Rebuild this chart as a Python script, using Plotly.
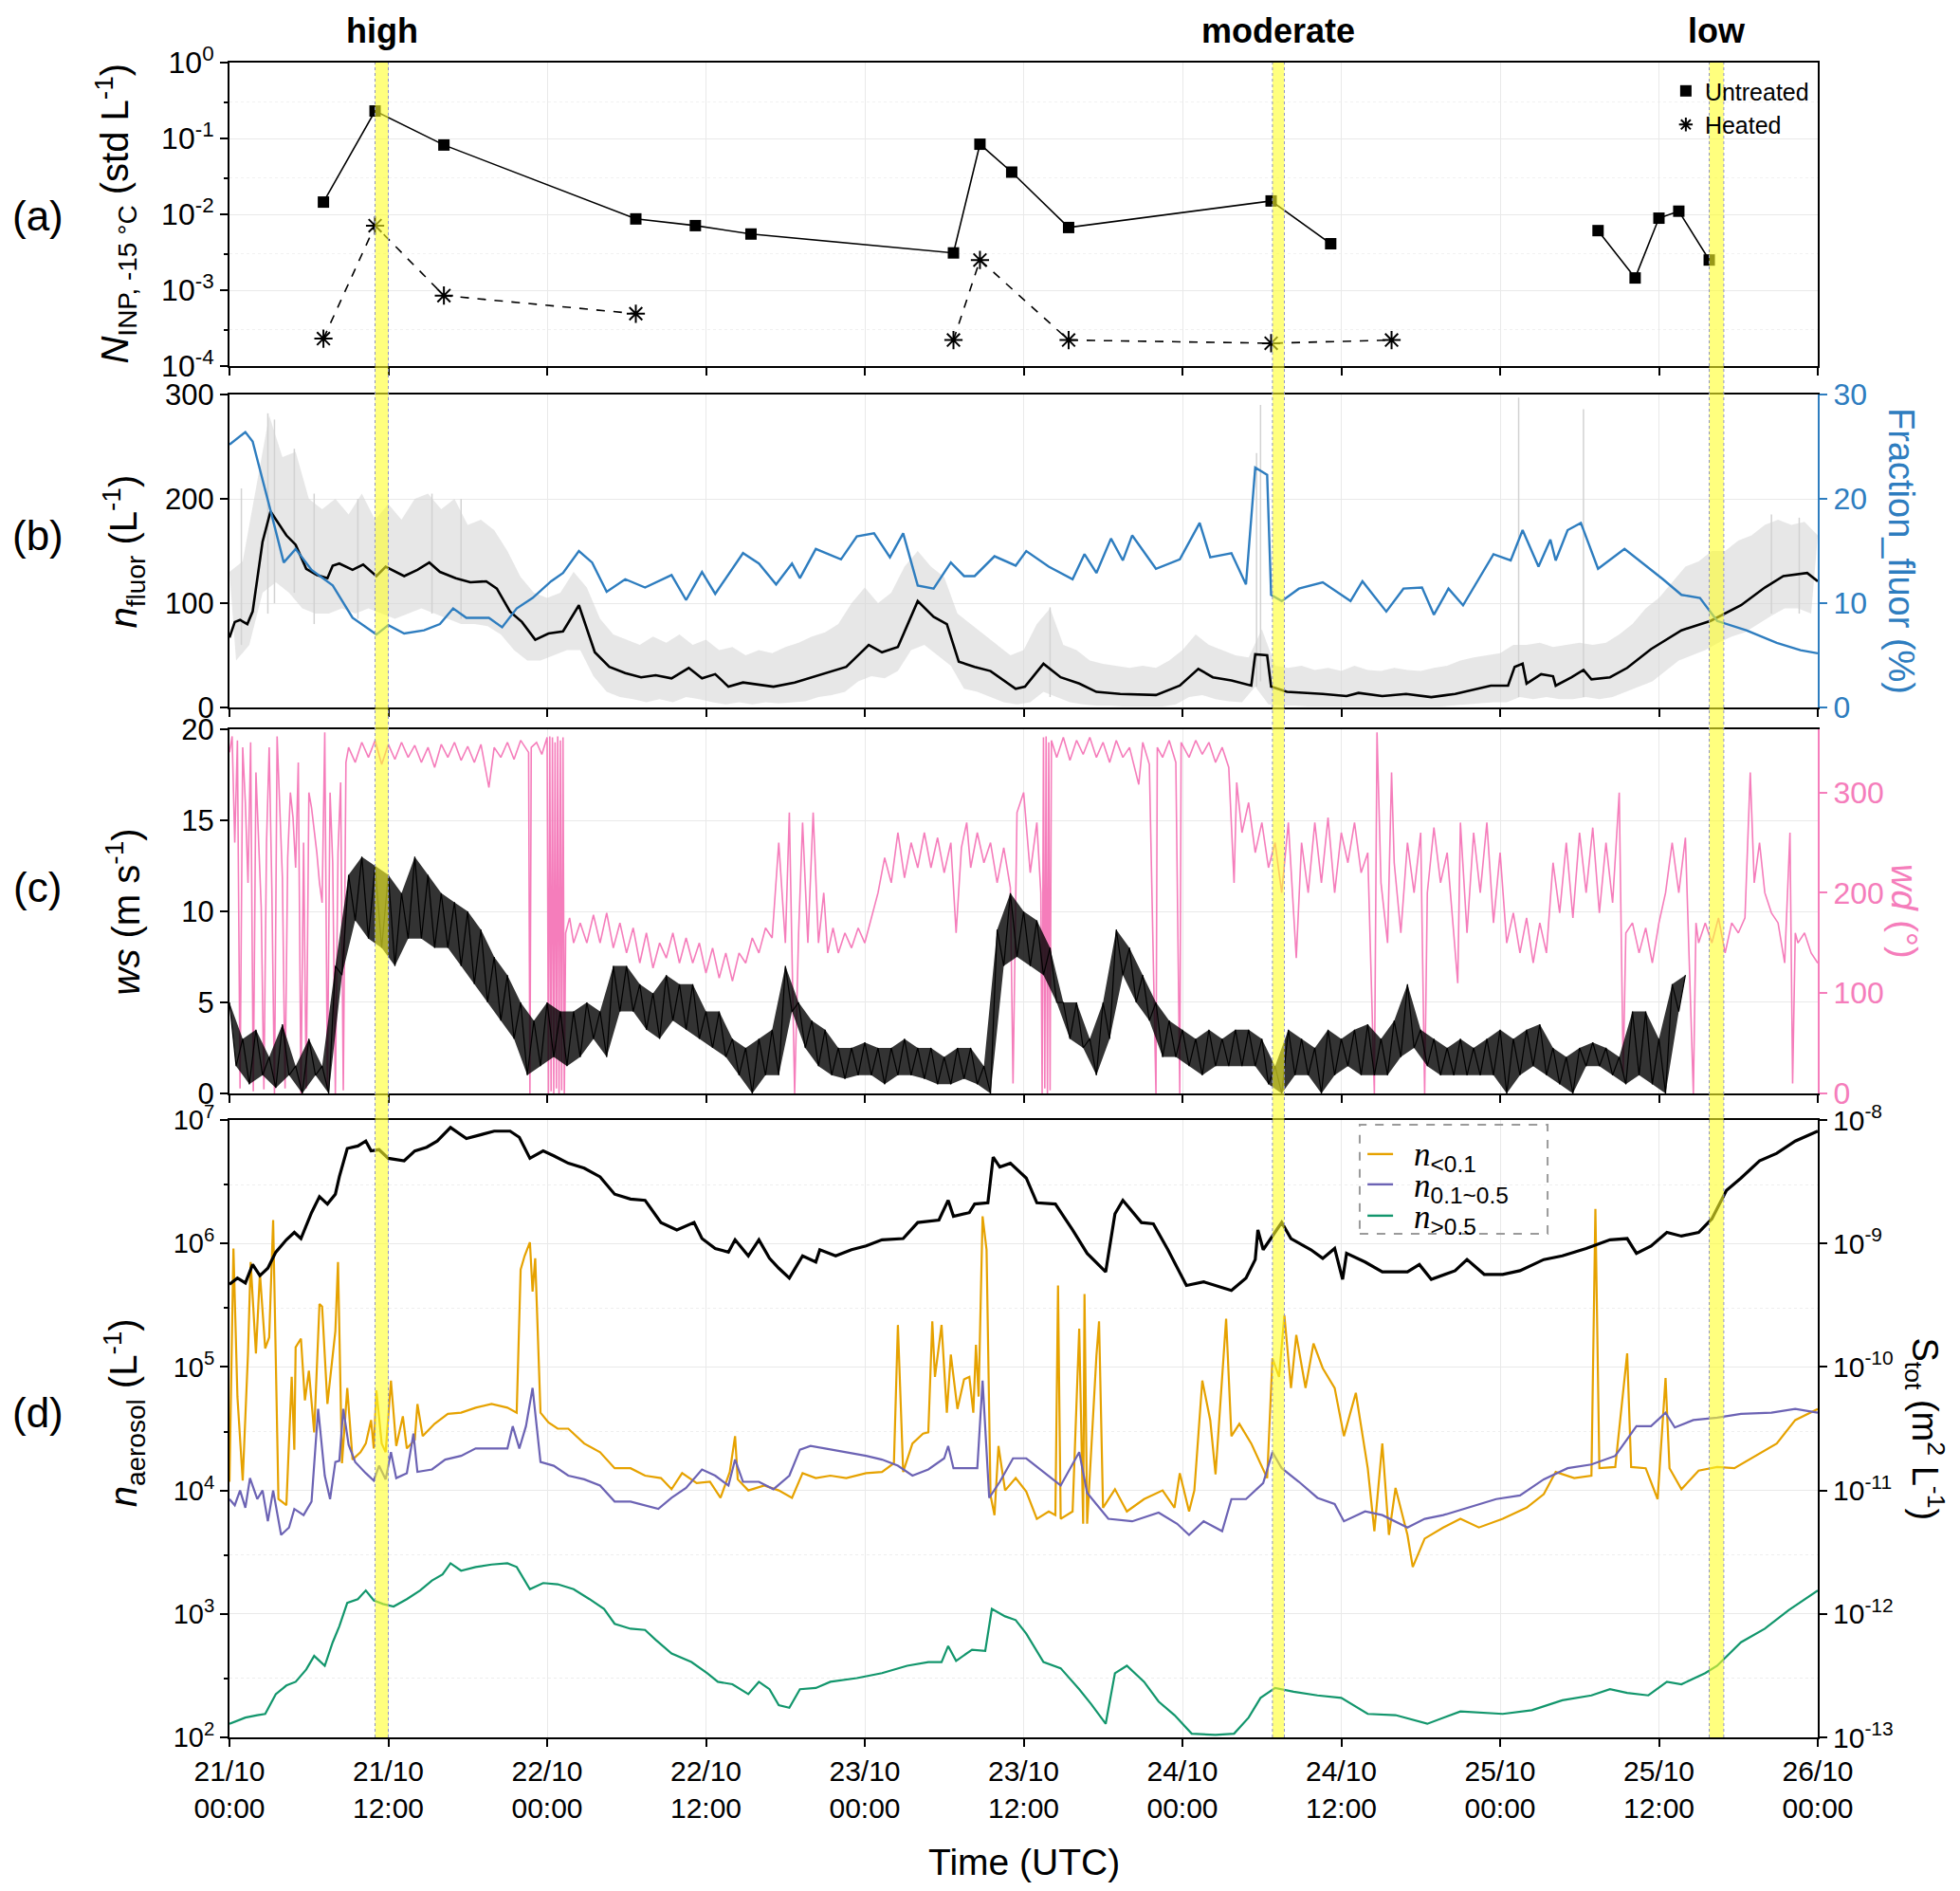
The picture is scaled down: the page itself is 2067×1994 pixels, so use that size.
import plotly.graph_objects as go

# time axis: hours since 21/10 00:00 UTC
tick_h = [0, 12, 24, 36, 48, 60, 72, 84, 96, 108, 120]
tick_txt = ["21/10<br>00:00", "21/10<br>12:00", "22/10<br>00:00", "22/10<br>12:00",
            "23/10<br>00:00", "23/10<br>12:00", "24/10<br>00:00", "24/10<br>12:00",
            "25/10<br>00:00", "25/10<br>12:00", "26/10<br>00:00"]

# highlighted sampling periods (start, end) in hours
bands = [(11.0, 12.0), (78.8, 79.7), (111.8, 112.9)]
band_labels = ["high", "moderate", "low"]

# ---- (a) INP at -15 C
untreated_t = [7.1, 11.0, 16.2, 30.7, 35.2, 39.4, 54.7, 56.7, 59.1, 63.4, 78.7, 83.2, None,
               103.4, 106.2, 108.0, 109.5, 111.8]
untreated_v = [0.0145, 0.23, 0.082, 0.0087, 0.0071, 0.0055, 0.0031, 0.084, 0.036, 0.0067, 0.015, 0.0041, None,
               0.0061, 0.00145, 0.0089, 0.011, 0.0025]
heated_t = [7.1, 11.0, 16.2, 30.7, None, 54.7, 56.7, 63.4, 78.7, 87.8]
heated_v = [0.00023, 0.0071, 0.00085, 0.00049, None, 0.00022, 0.0025, 0.00022, 0.0002, 0.00022]

# ---- (b) fluorescent particles
nfluor_pts = [(0, 67), (0.4, 82), (0.8, 84), (1.35, 80), (1.75, 92), (2.1, 123), (2.5, 159), (3.1, 188),
              (3.7, 177), (4.3, 165), (5.0, 156), (5.8, 133), (6.6, 127), (7.4, 124), (7.8, 136), (8.3, 138),
              (9.3, 132), (10.1, 137), (11.1, 126), (11.8, 135), (13.2, 126), (14.2, 132), (15.1, 139),
              (15.9, 130), (17.1, 124), (18.2, 120), (19.4, 121), (20.2, 114), (21.2, 92), (22.1, 82),
              (23.1, 65), (24.1, 71), (25.2, 73), (26.4, 98), (27.6, 53), (28.7, 39), (29.9, 33), (31.1, 29),
              (32.2, 31), (33.4, 28), (34.7, 38), (35.7, 28), (36.7, 32), (37.7, 20), (38.8, 24), (41.1, 20),
              (42.7, 24), (44.3, 30), (46.6, 39), (48.3, 60), (49.3, 53), (50.5, 58), (52.0, 102), (53.2, 87),
              (54.2, 80), (55.1, 44), (56.3, 39), (57.5, 35), (59.4, 18), (60.1, 20), (61.5, 42), (62.8, 29),
              (64.2, 23), (65.5, 15), (67.3, 13), (70.0, 12), (71.8, 21), (73.2, 37), (74.3, 29), (75.7, 26),
              (77.2, 21), (77.5, 51), (78.4, 50), (78.7, 20), (79.9, 15), (82.6, 13), (84.4, 11), (85.3, 14),
              (87.1, 11), (88.9, 13), (90.8, 10), (92.6, 13), (95.3, 21), (96.6, 21), (97.1, 39), (97.7, 42),
              (98.0, 23), (99.1, 32), (100.0, 30), (100.2, 21), (101.4, 29), (102.3, 36), (102.9, 27),
              (104.3, 29), (105.6, 38), (107.4, 56), (109.7, 74), (111.9, 83), (114.2, 98), (116.0, 115),
              (117.4, 126), (119.2, 129), (120.0, 121)]
frac_pts = [(0, 25.2), (1.2, 26.4), (1.75, 25.5), (2.3, 22.9), (3.1, 18.9), (4.1, 13.9), (5.0, 15.2),
            (6.2, 13.2), (7.8, 11.7), (9.3, 8.6), (11.1, 7.0), (12.0, 7.9), (13.2, 7.1), (14.7, 7.4),
            (15.9, 8.0), (16.9, 9.5), (17.9, 8.6), (19.6, 8.6), (20.6, 7.7), (21.7, 9.5), (22.9, 10.5),
            (24.3, 12.1), (25.2, 12.9), (26.4, 15.0), (27.4, 13.9), (28.5, 11.1), (29.9, 12.3), (31.4, 11.5),
            (33.4, 12.7), (34.5, 10.3), (35.7, 13.0), (36.7, 10.9), (38.8, 14.8), (40.0, 13.8), (41.3, 11.8),
            (42.5, 13.8), (43.1, 12.4), (44.3, 15.2), (46.2, 14.2), (47.4, 16.4), (48.7, 16.7), (49.9, 14.4),
            (50.9, 16.7), (52.0, 11.7), (53.2, 11.4), (54.5, 13.9), (55.5, 12.6), (56.3, 12.6), (57.8, 14.5),
            (59.4, 13.6), (60.2, 15.0), (61.9, 13.5), (63.7, 12.3), (64.6, 14.7), (65.5, 12.9), (66.6, 16.2),
            (67.5, 14.1), (68.2, 16.5), (70.0, 13.3), (71.8, 14.2), (73.3, 17.7), (74.1, 14.4), (75.7, 14.8),
            (76.8, 11.8), (77.5, 23.0), (78.4, 22.3), (78.7, 10.8), (79.5, 10.2), (80.8, 11.4), (82.6, 12.0),
            (84.7, 10.2), (85.6, 12.1), (87.4, 9.2), (88.7, 11.4), (90.1, 11.5), (91.0, 8.9), (92.1, 11.4),
            (93.2, 9.8), (94.4, 12.3), (95.5, 14.7), (96.8, 14.1), (97.7, 17.0), (98.9, 13.5), (99.8, 16.1),
            (100.2, 14.1), (101.1, 17.0), (102.1, 17.7), (103.4, 13.3), (105.4, 15.2), (107.0, 13.6),
            (108.3, 12.3), (109.7, 10.8), (111.1, 10.5), (112.4, 8.3), (114.6, 7.4), (116.9, 6.2),
            (118.7, 5.5), (120.0, 5.2)]
# raw n_fluor spread: upper values on the hour, lower values on the half hour
raw_hi = [130, 140, 210, 280, 240, 245, 200, 190, 200, 185, 205, 180, 195, 180, 200, 205, 190, 200, 175, 180,
          170, 150, 125, 110, 105, 110, 130, 115, 85, 70, 65, 60, 68, 62, 70, 60, 65, 55, 58, 50,
          55, 52, 58, 62, 68, 72, 80, 100, 115, 100, 110, 135, 150, 135, 125, 90, 80, 70, 60, 50,
          55, 80, 95, 60, 55, 45, 42, 40, 38, 40, 38, 45, 55, 70, 60, 55, 50, 48, 75, 40,
          38, 40, 36, 38, 35, 40, 36, 35, 38, 36, 35, 38, 40, 45, 48, 50, 52, 60, 60, 62,
          58, 60, 62, 60, 62, 70, 80, 95, 105, 120, 135, 140, 150, 150, 160, 165, 175, 180, 175, 178, 165]
raw_lo = [45, 60, 110, 120, 110, 95, 90, 90, 95, 90, 95, 90, 85, 90, 95, 90, 85, 80, 80, 78,
          70, 55, 45, 45, 50, 55, 55, 30, 15, 10, 8, 5, 8, 5, 10, 8, 5, 3, 5, 3,
          5, 4, 5, 6, 10, 12, 15, 25, 30, 28, 35, 55, 60, 50, 40, 18, 15, 10, 5, 3,
          5, 15, 10, 5, 3, 2, 2, 1, 1, 1, 1, 3, 10, 12, 8, 6, 5, 20, 3, 2,
          2, 1, 1, 1, 1, 1, 1, 1, 1, 1, 1, 1, 2, 3, 4, 5, 5, 10, 8, 10,
          8, 8, 10, 8, 10, 15, 20, 25, 35, 45, 50, 55, 62, 68, 72, 80, 88, 95, 95, 90]
# single raw readings far above the spread: (hour, low, high)
raw_spikes = [(0.9, 60, 210), (2.9, 90, 282), (3.4, 100, 276), (4.9, 110, 248), (6.4, 80, 205),
              (9.7, 85, 200), (15.3, 90, 205), (17.5, 85, 200), (62.0, 10, 96), (77.6, 20, 244),
              (77.9, 25, 290), (97.4, 10, 297), (102.3, 10, 286), (116.5, 90, 185), (118.6, 90, 182)]

# ---- (c) wind speed (upper on the hour, lower on the half hour) and direction
ws_hi = [5.0, 3.0, 3.5, 2.0, 3.8, 1.5, 3.0, 1.5, 7.0, 12.0, 13.0, 12.5, 12.0, 11.0, 13.0, 12.0, 11.0, 10.5,
         10.0, 9.0, 7.5, 6.5, 5.0, 4.0, 5.0, 4.5, 4.5, 5.0, 4.5, 7.0, 7.0, 6.0, 5.5, 6.5, 6.0, 6.0, 4.5,
         4.5, 3.0, 2.5, 3.0, 3.5, 7.0, 5.0, 4.0, 3.5, 2.5, 2.5, 2.8, 2.5, 2.5, 3.0, 2.5, 2.5, 2.0, 2.5,
         2.5, 1.5, 9.0, 11.0, 10.0, 9.5, 8.0, 5.0, 5.0, 3.0, 5.0, 9.0, 8.0, 6.5, 5.0, 4.0, 3.5, 3.0,
         3.5, 3.0, 3.5, 3.5, 3.0, 1.5, 3.5, 3.0, 2.5, 3.5, 3.0, 3.5, 3.8, 3.0, 4.0, 6.0, 3.5, 3.0, 2.5,
         3.0, 2.5, 3.0, 3.5, 3.0, 3.5, 3.8, 2.5, 2.0, 2.5, 2.8, 2.5, 2.0, 4.5, 4.5, 3.0, 6.0, 6.5]
ws_lo = [1.5, 0.5, 1.0, 0.3, 1.0, 0.0, 1.0, 0.0, 6.5, 9.5, 8.5, 8.0, 7.0, 8.5, 8.5, 8.0, 8.0, 7.0, 6.0,
         5.0, 4.0, 3.0, 1.0, 1.5, 2.0, 1.5, 2.0, 3.0, 2.0, 4.5, 4.5, 3.5, 3.0, 4.0, 3.5, 3.0, 2.5, 2.0,
         1.0, 0.0, 1.0, 1.0, 4.5, 2.5, 1.5, 1.0, 0.8, 1.0, 1.0, 0.5, 1.0, 1.0, 0.8, 0.5, 0.5, 0.8, 0.5,
         0.0, 7.0, 7.5, 7.0, 6.5, 5.0, 3.0, 2.5, 1.0, 3.0, 6.5, 5.0, 4.0, 2.0, 2.0, 1.5, 1.0, 1.5, 1.5,
         1.5, 1.5, 0.5, 0.0, 1.0, 1.0, 0.0, 1.0, 1.5, 1.0, 1.0, 1.0, 2.0, 2.5, 1.5, 1.0, 1.0, 1.0, 1.0,
         1.0, 0.0, 1.0, 1.5, 1.0, 0.5, 0.0, 1.5, 1.5, 1.0, 0.5, 1.0, 0.5, 0.0, 4.5]
wd_pts = [(0.0, 340), (0.2, 356), (0.4, 250), (0.6, 352), (0.8, 5), (1.0, 345), (1.2, 290), (1.4, 210),
          (1.6, 350), (1.8, 2), (2.0, 320), (2.2, 260), (2.4, 185), (2.6, 4), (2.8, 250), (3.0, 345),
          (3.2, 205), (3.4, 0), (3.6, 356), (3.8, 285), (4.0, 215), (4.2, 5), (4.4, 235), (4.6, 300),
          (4.8, 275), (5.0, 225), (5.2, 330), (5.4, 0), (5.6, 250), (5.8, 5), (6.0, 300), (6.2, 285),
          (6.4, 265), (6.6, 240), (6.8, 210), (7.0, 190), (7.2, 360), (7.4, 5), (7.6, 300), (7.8, 230),
          (8.0, 0), (8.2, 240), (8.4, 310), (8.6, 3), (8.8, 330), (9.0, 345), (9.5, 330), (10, 350),
          (10.5, 335), (11, 352), (11.5, 328), (12, 348), (12.5, 333), (13, 350), (13.5, 335), (14, 347),
          (14.5, 330), (15, 345), (15.5, 325), (16, 348), (16.5, 335), (17, 350), (17.5, 332), (18, 346),
          (18.5, 330), (19, 348), (19.6, 305), (20, 345), (20.5, 335), (21, 350), (21.5, 333), (22, 352),
          (22.6, 340), (22.7, 0), (22.8, 345), (23.2, 350), (23.6, 338), (24.0, 355), (24.1, 0),
          (24.2, 356), (24.3, 2), (24.4, 355), (24.5, 0), (24.6, 350), (24.7, 5), (24.8, 356), (24.9, 0),
          (25.0, 352), (25.1, 3), (25.2, 355), (25.3, 0), (25.4, 160), (25.7, 175), (26, 150), (26.5, 170),
          (27, 150), (27.5, 178), (28, 150), (28.5, 180), (29, 145), (29.5, 170), (30, 140), (30.5, 165),
          (31, 130), (31.5, 160), (32, 125), (32.5, 150), (33, 135), (33.5, 160), (34, 130), (34.5, 155),
          (35, 130), (35.5, 150), (36, 120), (36.5, 145), (37, 115), (37.5, 140), (38, 112), (38.5, 140),
          (39, 130), (39.5, 155), (40, 140), (40.5, 165), (41, 155), (41.5, 250), (42, 150), (42.3, 280),
          (42.7, 0), (43, 160), (43.3, 270), (43.7, 150), (44.1, 280), (44.5, 150), (44.9, 200),
          (45.2, 140), (45.6, 165), (46, 140), (46.5, 160), (47, 145), (47.5, 165), (48, 150), (48.5, 175),
          (49, 200), (49.5, 235), (50, 210), (50.5, 260), (51, 215), (51.5, 250), (52, 225), (52.5, 260),
          (53, 225), (53.5, 255), (54, 220), (54.5, 250), (54.9, 160), (55.3, 245), (55.7, 270), (56, 225),
          (56.5, 260), (57, 230), (57.5, 250), (58, 210), (58.5, 245), (59, 205), (59.2, 10), (59.5, 280),
          (60, 300), (60.5, 220), (61, 270), (61.3, 200), (61.4, 0), (61.5, 355), (61.6, 5), (61.7, 356),
          (61.8, 0), (61.9, 350), (62.0, 3), (62.1, 352), (62.5, 335), (63, 355), (63.5, 332), (64, 352),
          (64.5, 338), (65, 355), (65.5, 335), (66, 350), (66.5, 330), (67, 352), (67.5, 335), (68, 345),
          (68.7, 308), (69, 350), (69.5, 328), (70, 0), (70.1, 345), (70.5, 335), (71, 352), (71.5, 330),
          (71.8, 0), (71.9, 350), (72.5, 335), (73, 352), (73.5, 338), (74, 350), (74.5, 330), (75, 345),
          (75.5, 325), (75.9, 210), (76.1, 310), (76.5, 260), (77, 290), (77.5, 240), (78, 270),
          (78.5, 225), (79, 250), (79.5, 200), (80, 270), (80.6, 135), (81, 250), (81.5, 200), (82, 270),
          (82.5, 210), (83, 275), (83.5, 200), (84, 260), (84.5, 230), (85, 270), (85.5, 220), (86, 240),
          (86.5, 0), (86.7, 360), (87, 210), (87.5, 150), (87.8, 320), (88, 230), (88.5, 160), (89, 250),
          (89.5, 200), (90, 260), (90.3, 0), (90.5, 200), (91, 265), (91.5, 210), (92, 240), (92.8, 110),
          (93, 270), (93.5, 160), (94, 260), (94.5, 200), (95, 270), (95.5, 170), (96, 240), (96.5, 150),
          (97, 180), (97.5, 140), (98, 175), (98.5, 130), (99, 170), (99.5, 140), (100, 230), (100.5, 180),
          (101, 250), (101.5, 175), (102, 260), (102.5, 200), (103, 265), (103.5, 180), (104, 250),
          (104.5, 190), (105, 300), (105.3, 20), (105.5, 160), (106, 170), (106.5, 140), (107, 165),
          (107.5, 130), (108, 170), (108.5, 200), (109, 250), (109.5, 200), (110, 255), (110.6, 0),
          (110.8, 170), (111, 150), (111.5, 170), (112, 150), (112.5, 175), (113, 140), (113.5, 170),
          (114, 160), (114.5, 175), (114.9, 320), (115.2, 210), (115.6, 250), (116, 200), (116.5, 180),
          (117, 170), (117.5, 130), (117.9, 260), (118.1, 10), (118.3, 160), (118.5, 150), (119, 160),
          (119.5, 140), (120, 130)]

# ---- (d) aerosol number (log10 L-1) and total surface (log10 m2 L-1)
stot_log = [(0, -9.33), (0.6, -9.28), (1.2, -9.32), (1.75, -9.17), (2.3, -9.26), (2.9, -9.2), (3.5, -9.07),
            (4.3, -8.97), (4.9, -8.91), (5.4, -8.96), (6.2, -8.75), (6.8, -8.62), (7.4, -8.68), (8.0, -8.6),
            (8.3, -8.46), (8.9, -8.23), (9.7, -8.21), (10.3, -8.17), (10.7, -8.25), (11.3, -8.24),
            (12.0, -8.31), (13.2, -8.33), (14.0, -8.25), (14.9, -8.22), (15.7, -8.17), (16.7, -8.06),
            (17.9, -8.15), (19.0, -8.12), (20.0, -8.09), (21.2, -8.09), (21.9, -8.14), (22.7, -8.31),
            (23.7, -8.25), (24.5, -8.29), (25.6, -8.35), (26.8, -8.39), (28.0, -8.46), (29.1, -8.6),
            (30.3, -8.64), (31.4, -8.65), (32.6, -8.83), (33.8, -8.89), (35.1, -8.83), (35.7, -8.96),
            (36.7, -9.04), (37.7, -9.07), (38.2, -8.97), (39.2, -9.1), (40.0, -8.97), (40.8, -9.12),
            (41.5, -9.2), (42.3, -9.28), (43.3, -9.1), (44.3, -9.15), (44.6, -9.05), (45.8, -9.1),
            (47.0, -9.05), (48.1, -9.02), (49.3, -8.97), (50.9, -8.96), (52.0, -8.83), (53.6, -8.81),
            (54.3, -8.65), (54.7, -8.78), (55.9, -8.75), (56.3, -8.68), (57.3, -8.67), (57.7, -8.3),
            (58.2, -8.38), (59.0, -8.35), (60.2, -8.47), (61.0, -8.67), (62.4, -8.68), (63.7, -8.89),
            (64.8, -9.08), (66.2, -9.23), (66.9, -8.76), (67.5, -8.65), (68.9, -8.83), (69.8, -8.84),
            (70.9, -9.05), (72.3, -9.34), (73.6, -9.31), (75.7, -9.38), (76.8, -9.28), (77.5, -9.13),
            (77.7, -8.89), (78.1, -9.05), (79.5, -8.83), (80.2, -8.96), (81.7, -9.05), (82.6, -9.12),
            (83.5, -9.04), (84.1, -9.29), (84.4, -9.08), (85.8, -9.15), (87.1, -9.23), (89.0, -9.23),
            (89.9, -9.17), (90.8, -9.29), (92.6, -9.22), (93.5, -9.13), (94.8, -9.25), (96.2, -9.25),
            (97.5, -9.22), (99.3, -9.13), (100.7, -9.1), (102.5, -9.04), (104.3, -8.97), (105.6, -8.96),
            (106.3, -9.08), (107.4, -9.02), (108.6, -8.91), (109.7, -8.94), (111.0, -8.91), (112.0, -8.8),
            (113.1, -8.57), (114.2, -8.47), (115.6, -8.33), (116.9, -8.27), (118.3, -8.17), (120.0, -8.09)]
n_small_log = [(0, 4.07), (0.3, 5.96), (0.6, 4.76), (1.0, 4.08), (1.4, 5.11), (1.6, 5.85), (2.0, 5.11),
               (2.3, 5.76), (2.7, 5.15), (3.0, 5.24), (3.3, 6.19), (3.7, 3.93), (4.3, 3.88), (4.7, 4.92),
               (4.9, 4.33), (5.0, 5.16), (5.4, 5.23), (5.7, 4.73), (6.0, 4.97), (6.4, 4.47), (6.8, 5.51),
               (7.0, 5.49), (7.4, 4.7), (8.0, 5.29), (8.2, 5.85), (8.5, 4.22), (8.9, 4.83), (9.3, 4.25),
               (9.9, 4.31), (10.3, 4.38), (10.7, 4.57), (10.9, 4.34), (11.1, 4.81), (11.5, 4.38),
               (11.8, 4.31), (12.2, 4.89), (12.6, 4.36), (13.1, 4.6), (13.4, 4.34), (14.0, 4.41),
               (14.2, 4.7), (14.6, 4.44), (15.5, 4.54), (16.5, 4.62), (17.5, 4.63), (18.6, 4.67),
               (19.8, 4.7), (21.0, 4.67), (21.7, 4.63), (22.0, 5.79), (22.3, 5.9), (22.7, 6.01),
               (22.9, 5.61), (23.1, 5.88), (23.5, 4.63), (24.1, 4.55), (24.8, 4.5), (25.6, 4.5),
               (26.8, 4.38), (28.0, 4.31), (29.1, 4.18), (30.3, 4.18), (31.4, 4.12), (32.6, 4.1),
               (33.4, 4.01), (34.2, 4.14), (35.3, 4.06), (36.3, 4.07), (37.1, 3.94), (37.8, 4.15),
               (38.2, 4.44), (38.4, 4.09), (39.2, 4.0), (40.4, 4.04), (41.5, 4.0), (42.5, 3.94),
               (43.3, 4.14), (44.3, 4.1), (45.4, 4.12), (46.6, 4.1), (48.1, 4.14), (49.3, 4.15),
               (50.2, 4.22), (50.5, 5.34), (50.9, 4.15), (51.6, 4.38), (52.4, 4.46), (52.8, 4.47),
               (53.1, 5.37), (53.3, 4.92), (53.8, 5.34), (54.2, 4.63), (54.5, 5.1), (55.0, 4.66),
               (55.5, 4.9), (55.9, 4.92), (56.2, 4.63), (56.4, 5.18), (56.6, 4.76), (56.9, 6.22),
               (57.2, 5.95), (57.5, 3.96), (57.8, 3.8), (58.1, 4.36), (58.6, 4.0), (59.4, 4.1),
               (60.2, 3.99), (61.0, 3.77), (61.9, 3.83), (62.4, 3.8), (62.6, 5.66), (62.8, 3.77),
               (63.7, 3.83), (64.2, 5.31), (64.5, 3.73), (64.6, 5.59), (64.8, 3.73), (65.5, 5.09),
               (65.7, 5.37), (66.0, 3.86), (66.9, 4.01), (67.8, 3.83), (69.1, 3.93), (70.5, 4.0),
               (71.4, 3.86), (71.8, 4.14), (72.5, 3.83), (72.9, 4.0), (73.5, 4.89), (74.1, 4.57),
               (74.5, 4.13), (75.3, 5.39), (75.7, 4.44), (76.3, 4.54), (77.2, 4.38), (78.4, 4.1),
               (78.8, 5.07), (79.3, 4.92), (79.7, 5.42), (80.2, 4.83), (80.6, 5.26), (81.3, 4.83),
               (81.9, 5.19), (82.6, 4.99), (83.5, 4.83), (84.2, 4.44), (85.1, 4.79), (86.0, 4.18),
               (86.5, 3.67), (87.1, 4.38), (87.6, 3.64), (88.1, 4.02), (89.0, 3.64), (89.4, 3.38),
               (90.3, 3.61), (91.7, 3.7), (93.0, 3.77), (94.4, 3.7), (96.2, 3.77), (98.0, 3.86),
               (99.3, 3.97), (100.2, 4.15), (101.6, 4.1), (102.9, 4.12), (103.2, 6.28), (103.5, 4.18),
               (104.7, 4.19), (105.6, 5.11), (105.9, 4.19), (107.0, 4.18), (107.9, 3.93), (108.5, 4.91),
               (108.8, 4.18), (109.7, 4.01), (111.0, 4.16), (112.4, 4.19), (113.7, 4.18), (115.0, 4.26),
               (116.9, 4.38), (118.3, 4.57), (120.0, 4.66)]
n_mid_log = [(0, 3.93), (0.4, 3.88), (0.8, 4.0), (1.2, 3.86), (1.55, 4.1), (2.1, 3.93), (2.5, 4.0),
             (2.9, 3.75), (3.3, 4.0), (3.9, 3.64), (4.5, 3.7), (4.9, 3.85), (5.6, 3.8), (6.2, 3.91),
             (6.7, 4.66), (7.2, 4.12), (7.6, 3.93), (8.0, 4.23), (8.3, 4.24), (8.6, 4.66), (9.0, 4.37),
             (9.5, 4.23), (10.3, 4.14), (10.9, 4.08), (11.3, 4.2), (11.8, 4.09), (12.2, 4.31), (12.6, 4.1),
             (13.4, 4.14), (13.9, 4.46), (14.2, 4.15), (15.3, 4.17), (16.3, 4.25), (17.5, 4.28),
             (18.6, 4.34), (19.8, 4.34), (21.0, 4.34), (21.4, 4.52), (21.9, 4.34), (22.4, 4.52),
             (22.9, 4.83), (23.5, 4.23), (24.5, 4.2), (25.6, 4.12), (26.8, 4.09), (28.0, 4.04),
             (29.1, 3.91), (30.3, 3.91), (31.4, 3.88), (32.4, 3.85), (33.4, 3.94), (34.5, 4.02),
             (35.7, 4.17), (36.7, 4.12), (37.7, 4.04), (38.2, 4.25), (38.8, 4.07), (40.0, 4.07),
             (41.1, 4.01), (42.3, 4.12), (43.1, 4.33), (43.9, 4.36), (45.0, 4.34), (46.6, 4.31),
             (48.1, 4.28), (49.3, 4.25), (50.5, 4.2), (51.6, 4.12), (52.8, 4.17), (54.0, 4.26),
             (54.3, 4.36), (54.7, 4.18), (55.9, 4.18), (56.5, 4.18), (56.9, 4.89), (57.4, 3.94),
             (58.2, 4.07), (59.2, 4.26), (60.2, 4.26), (61.9, 4.12), (62.8, 4.04), (64.2, 4.31),
             (64.8, 3.98), (66.4, 3.77), (68.2, 3.75), (70.2, 3.82), (71.6, 3.73), (72.5, 3.64),
             (73.6, 3.75), (75.0, 3.67), (75.7, 3.93), (76.8, 3.93), (78.1, 4.06), (78.8, 4.31),
             (79.5, 4.18), (80.8, 4.07), (82.2, 3.94), (83.5, 3.89), (84.2, 3.75), (85.8, 3.83),
             (87.1, 3.8), (89.0, 3.7), (90.3, 3.77), (91.7, 3.8), (93.5, 3.86), (95.7, 3.93), (97.5, 3.96),
             (99.3, 4.09), (101.1, 4.18), (102.9, 4.21), (104.7, 4.28), (105.6, 4.41), (106.3, 4.52),
             (107.4, 4.52), (108.5, 4.63), (109.2, 4.51), (110.6, 4.57), (112.4, 4.59), (114.2, 4.62),
             (116.5, 4.63), (118.3, 4.66), (120.0, 4.63)]
n_large_log = [(0, 2.11), (1.2, 2.16), (2.1, 2.18), (2.7, 2.19), (3.5, 2.35), (4.3, 2.42), (5.0, 2.45),
               (5.8, 2.55), (6.4, 2.66), (7.2, 2.58), (7.8, 2.77), (8.3, 2.9), (8.9, 3.09), (9.7, 3.12),
               (10.3, 3.19), (10.9, 3.11), (11.6, 3.08), (12.4, 3.06), (13.4, 3.12), (14.4, 3.19),
               (15.3, 3.27), (16.1, 3.32), (16.7, 3.41), (17.5, 3.35), (18.6, 3.38), (19.8, 3.4),
               (21.0, 3.41), (21.7, 3.38), (22.7, 3.2), (23.7, 3.25), (24.8, 3.24), (26.0, 3.2),
               (27.2, 3.12), (28.3, 3.04), (29.1, 2.92), (30.3, 2.88), (31.4, 2.87), (32.2, 2.79),
               (33.4, 2.68), (34.9, 2.61), (36.1, 2.52), (36.9, 2.45), (38.0, 2.43), (39.2, 2.35),
               (40.0, 2.45), (40.8, 2.39), (41.5, 2.26), (42.3, 2.24), (43.1, 2.39), (44.3, 2.4),
               (45.4, 2.45), (47.4, 2.48), (49.3, 2.52), (51.2, 2.58), (52.8, 2.61), (53.8, 2.61),
               (54.3, 2.74), (54.9, 2.62), (56.1, 2.71), (57.1, 2.7), (57.6, 3.04), (58.6, 2.98),
               (59.4, 2.95), (60.2, 2.84), (61.5, 2.61), (62.8, 2.56), (64.2, 2.39), (65.1, 2.27),
               (66.2, 2.11), (66.9, 2.52), (67.8, 2.58), (69.1, 2.45), (70.2, 2.29), (71.4, 2.18),
               (72.7, 2.03), (74.5, 2.02), (75.9, 2.03), (77.0, 2.16), (77.9, 2.32), (79.0, 2.4),
               (80.4, 2.37), (82.2, 2.34), (84.0, 2.32), (86.0, 2.19), (88.1, 2.18), (90.5, 2.11),
               (93.0, 2.21), (96.2, 2.19), (98.4, 2.22), (100.7, 2.3), (102.9, 2.34), (104.3, 2.39),
               (105.6, 2.36), (107.2, 2.34), (108.6, 2.45), (109.7, 2.43), (111.5, 2.52), (112.4, 2.58),
               (114.2, 2.77), (116.0, 2.88), (117.8, 3.03), (120.0, 3.19)]

BLUE = "#2E7DBF"
PINK = "#F57DBB"
ORANGE = "#E6A200"
PURPLE = "#6C63B4"
GREEN = "#12966C"
GRID = "#e9e9e9"
FONT = "Liberation Sans, Arial, sans-serif"
SERIF = "Liberation Serif, Times New Roman, serif"


def split(pts):
    return [p[0] for p in pts], [p[1] for p in pts]


def zigzag(hi, lo):
    xs, ys = [], []
    for i, v in enumerate(hi):
        xs.append(i)
        ys.append(v)
        if i < len(lo):
            xs.append(i + 0.5)
            ys.append(lo[i])
    return xs, ys


def envelope(hi, lo):
    # closed outline: upper values forward, lower values back
    xs = list(range(len(hi))) + [i + 0.5 for i in range(len(lo))][::-1]
    return xs, hi + lo[::-1]


def sci(p):
    return "10<sup>%d</sup>" % p


def sans_sub(s):
    return '<sub><span style="font-family:Liberation Sans, Arial, sans-serif">%s</span></sub>' % s


fig = go.Figure()

# (a)
fig.add_trace(go.Scatter(x=untreated_t, y=untreated_v, mode="lines+markers", showlegend=False,
                         line=dict(color="black", width=1.6),
                         marker=dict(symbol="square", size=12, color="black"), xaxis="x", yaxis="y"))
fig.add_trace(go.Scatter(x=heated_t, y=heated_v, mode="lines+markers", showlegend=False,
                         line=dict(color="black", width=1.6, dash="dash"),
                         marker=dict(symbol="asterisk-open", size=16, color="black",
                                     line=dict(color="black", width=2)),
                         xaxis="x", yaxis="y"))
fig.add_trace(go.Scatter(x=[None], y=[None], mode="markers", name="Untreated", legend="legend",
                         marker=dict(symbol="square", size=12, color="black"), xaxis="x", yaxis="y"))
fig.add_trace(go.Scatter(x=[None], y=[None], mode="markers", name="Heated", legend="legend",
                         marker=dict(symbol="asterisk-open", size=16, color="black",
                                     line=dict(color="black", width=2)),
                         xaxis="x", yaxis="y"))

# (b)
ex, ey = envelope(raw_hi, raw_lo)
fig.add_trace(go.Scatter(x=ex, y=ey, fill="toself", fillcolor="rgba(212,212,212,0.55)",
                         line=dict(width=0), mode="lines", showlegend=False, hoverinfo="skip",
                         xaxis="x2", yaxis="y2"))
spx, spy = [], []
for t, lo, hi in raw_spikes:
    spx += [t, t, None]
    spy += [lo, hi, None]
fig.add_trace(go.Scatter(x=spx, y=spy, mode="lines", line=dict(color="#d2d2d2", width=1.5),
                         showlegend=False, xaxis="x2", yaxis="y2"))
bx, by = split(nfluor_pts)
fig.add_trace(go.Scatter(x=bx, y=by, mode="lines", line=dict(color="black", width=2.6),
                         showlegend=False, xaxis="x2", yaxis="y2"))
fx, fy = split(frac_pts)
fig.add_trace(go.Scatter(x=fx, y=fy, mode="lines", line=dict(color=BLUE, width=2.4),
                         showlegend=False, xaxis="x2", yaxis="y3"))

# (c)  wd on the base axis so the wind speed is drawn on top
wx, wy = split(wd_pts)
fig.add_trace(go.Scatter(x=wx, y=wy, mode="lines", line=dict(color=PINK, width=1.6),
                         showlegend=False, xaxis="x3", yaxis="y4"))
ex, ey = envelope(ws_hi, ws_lo)
fig.add_trace(go.Scatter(x=ex, y=ey, fill="toself", fillcolor="rgba(0,0,0,0.8)",
                         line=dict(width=0), mode="lines", showlegend=False, hoverinfo="skip",
                         xaxis="x3", yaxis="y5"))
sx, sy = zigzag(ws_hi, ws_lo)
fig.add_trace(go.Scatter(x=sx, y=sy, mode="lines", line=dict(color="black", width=1.2),
                         showlegend=False, xaxis="x3", yaxis="y5"))

# (d)
size_classes = [(n_small_log, ORANGE, "&lt;0.1"),
                (n_mid_log, PURPLE, "0.1~0.5"),
                (n_large_log, GREEN, "&gt;0.5")]
for pts, col, sub in size_classes:
    px_, py_ = split(pts)
    fig.add_trace(go.Scatter(x=px_, y=[10 ** v for v in py_], mode="lines", name="n" + sub,
                             showlegend=False, line=dict(color=col, width=2.2),
                             xaxis="x4", yaxis="y6"))
tx, ty = split(stot_log)
fig.add_trace(go.Scatter(x=tx, y=[10 ** v for v in ty], mode="lines", showlegend=False,
                         line=dict(color="black", width=3.2), xaxis="x4", yaxis="y7"))

# domains (paper fractions of the 1766 px plot height)
dom_a = [0.8188, 1.0]
dom_b = [0.6149, 0.8018]
dom_c = [0.3845, 0.6019]
dom_d = [0.0, 0.3686]

xcommon = dict(range=[0, 120], tickvals=tick_h, ticks="outside", ticklen=8, tickwidth=1.5,
               tickcolor="black", showgrid=True, gridcolor=GRID, gridwidth=1, showline=True,
               linecolor="black", linewidth=2, mirror=True, zeroline=False, domain=[0, 1])
ycommon = dict(ticks="outside", ticklen=8, tickwidth=1.5, tickcolor="black", showline=True,
               linecolor="black", linewidth=2, zeroline=False, gridcolor=GRID, gridwidth=1)

layout = dict(
    # the page adds an 8 px body margin, so the figure is drawn 8 px smaller
    width=2059, height=1986,
    margin=dict(l=234, r=150, t=58, b=162),
    paper_bgcolor="white", plot_bgcolor="white",
    font=dict(family=FONT, color="black", size=28),
    xaxis=dict(xcommon, anchor="y", showticklabels=False),
    xaxis2=dict(xcommon, anchor="y2", matches="x", showticklabels=False),
    xaxis3=dict(xcommon, anchor="y4", matches="x", showticklabels=False),
    xaxis4=dict(xcommon, anchor="y6", matches="x", ticktext=tick_txt,
                tickfont=dict(size=30)),
    yaxis=dict(ycommon, domain=dom_a, anchor="x", type="log", range=[-4, 0], mirror=True,
               tickvals=[10 ** p for p in range(-4, 1)], ticktext=[sci(p) for p in range(-4, 1)],
               tickfont=dict(size=32), showgrid=True,
               minor=dict(tickvals=[3 * 10 ** p for p in range(-4, 0)], ticks="outside", ticklen=4,
                          tickcolor="black", showgrid=True, gridcolor="#f1f1f1", griddash="dot")),
    yaxis2=dict(ycommon, domain=dom_b, anchor="x2", range=[0, 300], tickvals=[0, 100, 200, 300],
                tickfont=dict(size=31), showgrid=True),
    yaxis3=dict(ycommon, domain=dom_b, anchor="x2", overlaying="y2", side="right", range=[0, 30],
                tickvals=[0, 10, 20, 30], showgrid=False, linecolor=BLUE, tickcolor=BLUE,
                tickfont=dict(size=32, color=BLUE)),
    yaxis4=dict(ycommon, domain=dom_c, anchor="x3", side="right", range=[0, 363],
                tickvals=[0, 100, 200, 300], showgrid=False, linecolor=PINK, tickcolor=PINK,
                tickfont=dict(size=32, color=PINK)),
    yaxis5=dict(ycommon, domain=dom_c, anchor="x3", overlaying="y4", side="left", range=[0, 20],
                tickvals=[0, 5, 10, 15, 20], tickfont=dict(size=31), showgrid=True),
    yaxis6=dict(ycommon, domain=dom_d, anchor="x4", type="log", range=[2, 7],
                tickvals=[10 ** p for p in range(2, 8)], ticktext=[sci(p) for p in range(2, 8)],
                tickfont=dict(size=29), showgrid=True,
                minor=dict(tickvals=[3 * 10 ** p for p in range(2, 7)], ticks="outside", ticklen=4,
                           tickcolor="black", showgrid=True, gridcolor="#eeeeee", griddash="dot")),
    yaxis7=dict(ycommon, domain=dom_d, anchor="x4", overlaying="y6", side="right", type="log",
                range=[-13, -8], tickvals=[10 ** p for p in range(-13, -7)],
                ticktext=[sci(p) for p in range(-13, -7)], tickfont=dict(size=30), showgrid=False),
    legend=dict(x=0.905, y=0.996, xanchor="left", yanchor="top", bgcolor="rgba(0,0,0,0)",
                font=dict(size=25), itemsizing="constant", tracegroupgap=0),
)
fig.update_layout(**layout)

shapes = []
ann = []
# highlighted periods across all panels
for x0, x1 in bands:
    shapes.append(dict(type="rect", xref="x", yref="paper", x0=x0, x1=x1, y0=0, y1=1,
                       fillcolor="rgba(255,255,40,0.6)", line=dict(width=0), layer="above"))
    for xe in (x0, x1):
        shapes.append(dict(type="line", xref="x", yref="paper", x0=xe, x1=xe, y0=0, y1=1,
                           line=dict(color="#8f93c4", width=1, dash="dot"), layer="above"))
# legend of (d): dashed frame, short line keys and labels
shapes.append(dict(type="rect", xref="paper", yref="paper", x0=0.7116, x1=0.8299, y0=0.3007, y1=0.3658,
                   line=dict(color="#9a9a9a", width=2, dash="dash"), fillcolor="rgba(0,0,0,0)"))
for (pts, col, sub), yk, yt in zip(size_classes, [0.3483, 0.3302, 0.3115], [0.3471, 0.3284, 0.3097]):
    shapes.append(dict(type="line", xref="paper", yref="paper", x0=0.7165, x1=0.7326, y0=yk, y1=yk,
                       line=dict(color=col, width=2.4)))
    ann.append(dict(text="<i>n</i>" + sans_sub(sub), x=0.7445, y=yt, xref="paper", yref="paper",
                    showarrow=False, font=dict(size=35, family=SERIF), xanchor="left",
                    yanchor="middle"))
fig.update_layout(shapes=shapes)

for (x0, x1), lab in zip(bands, band_labels):
    ann.append(dict(text="<b>%s</b>" % lab, x=(x0 + x1) / 2, xref="x", y=1.0187, yref="paper",
                    showarrow=False, font=dict(size=36), xanchor="center", yanchor="middle"))
for lab, yy in [("(a)", 0.9088), ("(b)", 0.718), ("(c)", 0.5074), ("(d)", 0.1942)]:
    ann.append(dict(text=lab, x=-0.1206, y=yy, xref="paper", yref="paper", showarrow=False,
                    font=dict(size=44), xanchor="center", yanchor="middle"))
left_titles = [("<i>N</i><sub>INP, -15 °C</sub> (std L<sup>-1</sup>)", -0.0716, 0.9097),
               ("<i>n</i><sub>fluor</sub> (L<sup>-1</sup>)", -0.0666, 0.7084),
               ("<i>ws</i> (m s<sup>-1</sup>)", -0.0666, 0.4932),
               ("<i>n</i><sub>aerosol</sub> (L<sup>-1</sup>)", -0.0666, 0.1937)]
for txt, xx, yy in left_titles:
    ann.append(dict(text=txt, x=xx, y=yy, xref="paper", yref="paper", showarrow=False, textangle=-90,
                    font=dict(size=40), xanchor="center", yanchor="middle"))
right_titles = [("Fraction_fluor (%)", 1.0525, 0.7084, BLUE),
                ("<i>wd</i> (°)", 1.0543, 0.4932, PINK),
                ("S<sub>tot</sub> (m<sup>2</sup> L<sup>-1</sup>)", 1.0675, 0.1843, "black")]
for txt, xx, yy, col in right_titles:
    ann.append(dict(text=txt, x=xx, y=yy, xref="paper", yref="paper", showarrow=False, textangle=90,
                    font=dict(size=38, color=col), xanchor="center", yanchor="middle"))
ann.append(dict(text="Time (UTC)", x=0.5, y=-0.0747, xref="paper", yref="paper", showarrow=False,
                font=dict(size=39), xanchor="center", yanchor="middle"))
fig.update_layout(annotations=ann)

fig.write_html("out.html")
